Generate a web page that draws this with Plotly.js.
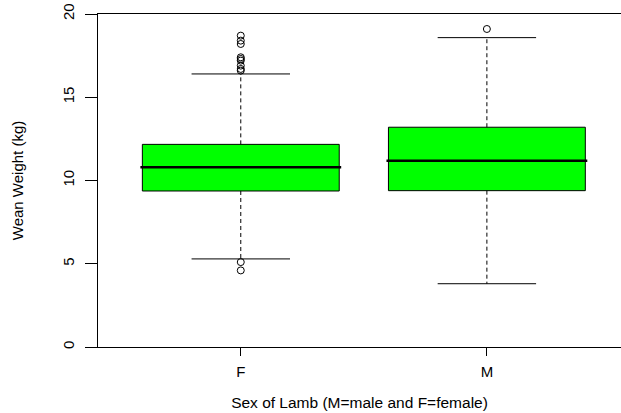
<!DOCTYPE html>
<html>
<head>
<meta charset="utf-8">
<script src="https://cdn.plot.ly/plotly-3.0.1.min.js"></script>
<style>html,body{margin:0;padding:0;background:#fff;}#chart{width:621px;height:413px;}</style>
</head>
<body>
<div id="chart"></div>
<script>
// Data
var categories = ['F', 'M'];
var q1Values = [9.37, 9.39];
var medianValues = [10.79, 11.19];
var q3Values = [12.17, 13.2];
var lowerWhisker = [5.29, 3.8];
var upperWhisker = [16.4, 18.58];
var outliersF = [18.7, 18.4, 18.2, 17.4, 17.3, 17.2, 16.9, 16.7, 16.6, 5.1, 4.6];
var outliersM = [19.1];
var yTickVals = [0, 5, 10, 15, 20];

var positions = categories.map(function (c, i) { return i + 1; });
var boxHalf = 0.4, capHalf = 0.2;

var traces = [];

// whiskers (dashed) and caps
var wx = [], wy = [], cx = [], cy = [];
positions.forEach(function (p, i) {
  wx.push(p, p, null, p, p, null);
  wy.push(q3Values[i], upperWhisker[i], null, q1Values[i], lowerWhisker[i], null);
  cx.push(p - capHalf, p + capHalf, null, p - capHalf, p + capHalf, null);
  cy.push(upperWhisker[i], upperWhisker[i], null, lowerWhisker[i], lowerWhisker[i], null);
});
traces.push({type: 'scatter', mode: 'lines', x: wx, y: wy, line: {color: '#000', width: 1, dash: '4px,3px'}, hoverinfo: 'skip', showlegend: false});
traces.push({type: 'scatter', mode: 'lines', x: cx, y: cy, line: {color: '#000', width: 1}, hoverinfo: 'skip', showlegend: false});

// boxes
traces.push({
  type: 'box', x: positions, q1: q1Values, median: medianValues, q3: q3Values,
  lowerfence: q1Values, upperfence: q3Values, width: 2 * boxHalf,
  fillcolor: '#00ff00', line: {color: '#000', width: 1}, whiskerwidth: 0,
  boxpoints: false, hoverinfo: 'skip', showlegend: false
});

// thick medians
var mx = [], my = [];
positions.forEach(function (p, i) {
  mx.push(p - boxHalf - 0.008, p + boxHalf + 0.008, null);
  my.push(medianValues[i], medianValues[i], null);
});
traces.push({type: 'scatter', mode: 'lines', x: mx, y: my, line: {color: '#000', width: 2.5}, hoverinfo: 'skip', showlegend: false});

// outliers
var ox = [], oy = [];
outliersF.forEach(function (v) { ox.push(positions[0]); oy.push(v); });
outliersM.forEach(function (v) { ox.push(positions[1]); oy.push(v); });
traces.push({type: 'scatter', mode: 'markers', x: ox, y: oy,
  marker: {symbol: 'circle-open', size: 7, color: '#000', line: {width: 1, color: '#000'}},
  hoverinfo: 'skip', showlegend: false});

var font = {family: 'Liberation Sans, Arial, sans-serif', size: 15, color: '#000'};
var titleFont = {family: font.family, size: 15.5, color: '#000'};

var layout = {
  width: 621, height: 413,
  margin: {l: 98, r: 0, t: 14, b: 66},
  paper_bgcolor: '#fff', plot_bgcolor: '#fff',
  font: font,
  showlegend: false,
  xaxis: {
    range: [0.4198, 2.545], tickvals: positions, ticktext: categories,
    ticks: 'outside', ticklen: 8, tickwidth: 1, tickcolor: '#000',
    showline: true, linecolor: '#000', linewidth: 1, mirror: true,
    showgrid: false, zeroline: false, fixedrange: true,
    tickfont: font, ticklabelstandoff: 3,
    title: {text: 'Sex of Lamb (M=male and F=female)', font: titleFont, standoff: 18}
  },
  yaxis: {
    range: [0, 20], tickvals: yTickVals, ticktext: yTickVals.map(String),
    ticks: 'outside', ticklen: 12, tickwidth: 1, tickcolor: '#000',
    tickangle: -90, ticklabelstandoff: 5,
    showline: true, linecolor: '#000', linewidth: 1,
    showgrid: false, zeroline: false, fixedrange: true,
    tickfont: font,
    title: {text: 'Wean Weight (kg)', font: {family: font.family, size: 15, color: '#000'}, standoff: 32}
  }
};

Plotly.newPlot('chart', traces, layout, {staticPlot: true, displayModeBar: false});
</script>
</body>
</html>
